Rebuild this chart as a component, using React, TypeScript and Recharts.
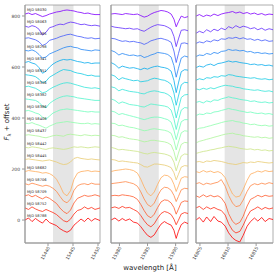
import React from 'react';
import { ComposedChart, Line, XAxis, YAxis, ReferenceArea, ReferenceDot } from 'recharts';

// epochs, top to bottom
const MJD = ['58030', '58063', '58085', '58298', '58341', '58351', '58356', '58382', '58386',
  '58408', '58437', '58442', '58445', '58682', '58706', '58709', '58752', '58788'];

// left window
const L_WAVE = [15435.4, 15436.1, 15436.8, 15437.5, 15438.2, 15438.9, 15439.6, 15440.3, 15441.0, 15441.7, 15442.4,
  15443.1, 15443.8, 15444.5, 15445.2, 15445.9, 15446.6, 15447.3, 15448.0, 15448.7, 15449.4, 15450.4];
const L_FLUX = [
  [0, 4, -2, 2, -4, -10, -6, 0, 4, 8, 10, 14, 16, 14, 12, 8, 6, 2, 4, 0, -2, -2],
  [0, -4, 2, -2, -12, -35, -24, -6, -2, 4, 8, 6, 12, 16, 14, 10, 6, 8, 4, 2, 4, 0],
  [0, 2, -2, -6, -14, -28, -22, -8, -4, 0, 6, 10, 14, 16, 12, 8, 6, 2, 0, 2, -2, 0],
  [0, -2, 2, -4, -16, -30, -26, -14, -8, -2, 4, 10, 14, 16, 12, 10, 4, 2, 0, -2, 2, 0],
  [0, 4, -2, -6, -20, -42, -34, -18, -6, 2, 8, 12, 10, 12, 8, 4, 2, -2, 0, -4, -2, -2],
  [0, -2, -4, -8, -18, -32, -26, -10, -2, 6, 14, 20, 18, 16, 10, 6, 4, 0, -4, -2, -6, -6],
  [0, 2, -2, -6, -14, -24, -20, -10, -2, 4, 10, 14, 16, 14, 10, 6, 2, -2, -4, -6, -4, -8],
  [0, -2, -4, -6, -14, -28, -35, -18, -8, 0, 6, 10, 12, 10, 8, 4, 2, 0, -2, -4, -6, -6],
  [0, 2, -2, -8, -12, -24, -32, -20, -8, -2, 4, 6, 8, 6, 4, 2, 0, -2, -4, -2, -4, -4],
  [0, -2, 2, -4, -8, -14, -20, -12, -6, 0, 2, 4, 6, 4, 2, 0, -2, -2, 0, -4, -2, -4],
  [0, 2, 0, -2, -4, -8, -10, -6, -2, 0, -2, -4, 2, 4, 2, 0, -2, 2, 0, -2, 0, -2],
  [0, -2, 2, 0, -2, -6, -8, -4, -2, -4, -6, -8, -6, -2, 2, 0, 2, 0, -2, 0, 2, 0],
  [0, 2, 0, -2, -4, -6, -4, -2, -6, -10, -16, -20, -18, -10, 4, 8, 4, 2, 0, 2, 0, -2],
  [0, 4, 2, 0, -2, -6, -4, -8, -16, -30, -55, -85, -95, -75, -30, -6, 0, 2, 4, 0, 2, 0],
  [0, -4, 2, -2, -6, -10, -6, -10, -18, -30, -50, -68, -75, -60, -26, -8, -2, 0, -4, 2, -2, -2],
  [0, 4, -4, 2, -6, -12, -4, -10, -20, -30, -48, -62, -70, -56, -28, -10, -4, 2, -2, 0, 4, -2],
  [0, -6, 4, -4, -10, -14, -6, -12, -18, -26, -38, -50, -55, -44, -24, -10, -6, 4, -4, 2, -6, 0],
  [0, 8, -6, 6, -4, -12, 4, -10, -16, -22, -34, -42, -48, -40, -20, -8, 4, -6, 8, -4, 6, -2],
];

// middle window
const M_WAVE = [15978.5, 15979.2, 15979.9, 15980.5, 15981.1, 15981.8, 15982.5, 15983.2, 15983.8, 15984.4, 15985.0,
  15985.6, 15986.2, 15986.8, 15987.4, 15988.0, 15988.6, 15989.2, 15989.7, 15990.1, 15990.5, 15991.0, 15991.6, 15992.2];
const M_FLUX = [
  [0, 2, 0, -2, 2, 0, -2, 0, -6, -12, -8, 0, 6, 10, 14, 12, 8, 0, -20, -50, -30, -8, -14, -10],
  [0, -4, -6, -8, -10, -8, -12, -10, -16, -20, -12, -4, 2, 6, 4, 2, -4, -12, -40, -80, -50, -16, -14, -18],
  [0, -2, -8, -12, -10, -14, -12, -16, -18, -24, -18, -10, -6, -2, 0, -4, -8, -16, -50, -95, -60, -20, -18, -22],
  [0, -6, -18, -12, -16, -20, -18, -22, -20, -28, -24, -18, -14, -8, -10, -12, -16, -26, -60, -105, -70, -30, -22, -26],
  [0, -8, -22, -14, -18, -22, -20, -24, -28, -22, -26, -20, -16, -14, -18, -20, -24, -34, -70, -118, -80, -36, -28, -30],
  [0, -6, -20, -12, -16, -20, -24, -22, -28, -26, -24, -18, -14, -16, -20, -22, -28, -38, -72, -120, -84, -40, -30, -32],
  [0, -4, -16, -10, -14, -18, -20, -22, -26, -28, -22, -18, -16, -18, -22, -24, -30, -40, -75, -122, -86, -42, -32, -30],
  [0, -6, -18, -12, -16, -22, -24, -26, -30, -32, -26, -20, -22, -24, -26, -28, -32, -44, -78, -120, -84, -44, -34, -36],
  [0, -4, -14, -10, -14, -18, -22, -26, -30, -34, -30, -26, -24, -24, -26, -30, -34, -44, -75, -112, -80, -42, -34, -34],
  [0, -2, -10, -8, -12, -16, -18, -22, -26, -30, -28, -24, -22, -24, -26, -28, -32, -40, -68, -105, -74, -38, -30, -32],
  [0, -2, -8, -6, -10, -14, -16, -18, -22, -26, -24, -20, -20, -22, -24, -26, -30, -38, -64, -100, -70, -36, -28, -30],
  [0, -4, -10, -8, -10, -12, -14, -16, -20, -24, -26, -22, -20, -22, -24, -26, -30, -36, -58, -92, -64, -34, -26, -28],
  [0, -2, -8, -6, -8, -10, -12, -14, -20, -28, -30, -24, -18, -18, -20, -22, -26, -32, -52, -80, -58, -30, -24, -26],
  [0, 4, 6, 8, 10, 8, 4, -6, -30, -60, -85, -95, -80, -50, -24, -14, -16, -26, -50, -78, -56, -26, -20, -22],
  [0, 2, 4, 6, 8, 4, 0, -10, -32, -60, -82, -90, -76, -48, -24, -14, -16, -26, -46, -70, -50, -24, -18, -20],
  [0, 2, 0, 4, 2, 0, -4, -14, -34, -58, -78, -86, -72, -46, -24, -16, -18, -28, -46, -72, -52, -26, -20, -22],
  [0, 4, -2, 6, 0, 2, -6, -14, -30, -50, -66, -74, -62, -40, -22, -14, -18, -26, -44, -66, -48, -24, -18, -22],
  [0, 8, -4, 6, -2, 4, -8, -12, -26, -44, -60, -68, -58, -36, -16, -6, -14, -20, -40, -72, -44, -18, -8, -14],
];

// right window
const R_WAVE = [16804.3, 16804.9, 16805.6, 16806.2, 16806.9, 16807.5, 16808.2, 16808.8, 16809.5, 16810.1, 16810.8,
  16811.4, 16812.1, 16812.7, 16813.4, 16814.0, 16814.7, 16815.3, 16816.0, 16816.6, 16817.3, 16818.0];
const R_FLUX = [
  [-8, -2, -10, -4, -8, 0, -6, 0, 4, 6, 10, 4, 8, 2, 6, 0, 4, -2, 2, -4, 0, -2],
  [-28, -20, -26, -14, -22, -12, -18, -8, -14, -2, -8, 2, -6, 0, -4, -10, -6, -14, -8, -16, -10, -14],
  [-20, -14, -18, -10, -14, -6, -10, -2, -4, 2, 0, 4, -2, 2, -4, -2, -8, -4, -10, -6, -12, -10],
  [-24, -18, -20, -12, -16, -8, -12, -4, -2, 4, 0, 2, -2, 0, -6, -4, -10, -8, -12, -10, -14, -12],
  [-20, -14, -18, -10, -6, -12, -4, -2, 2, 6, 2, 4, 0, -2, -4, -8, -6, -10, -8, -12, -10, -14],
  [-22, -16, -20, -12, -14, -8, -10, -4, -6, 0, -2, -6, -8, -10, -12, -14, -12, -16, -18, -16, -20, -18],
  [-8, -12, -6, -10, -4, -8, -2, 2, 6, 4, 2, -2, -4, -8, -10, -12, -14, -12, -16, -18, -16, -20],
  [-14, -10, -16, -8, -12, -4, -6, 0, 4, 8, 4, 2, -2, -4, -6, -10, -8, -12, -14, -12, -16, -14],
  [-18, -12, -14, -8, -10, -4, -2, 2, 6, 10, 6, 4, 0, -2, -6, -4, -8, -10, -8, -12, -10, -14],
  [-26, -20, -18, -14, -10, -6, -2, 2, 6, 8, 10, 6, 4, 0, -2, -6, -4, -8, -10, -8, -12, -10],
  [-30, -24, -20, -16, -12, -8, -4, 0, 4, 6, 8, 4, 2, -2, -4, -6, -8, -6, -10, -8, -12, -10],
  [-24, -20, -16, -14, -10, -8, -4, -2, 2, 4, 2, 0, -4, -6, -8, -6, -10, -8, -12, -10, -14, -12],
  [-10, -8, -12, -6, -8, -4, -6, -8, -12, -16, -18, -20, -16, -12, -14, -10, -12, -8, -10, -12, -14, -12],
  [0, -4, 4, -2, 2, -4, 0, -6, -24, -56, -88, -100, -96, -70, -34, -10, -4, 2, -2, 4, 0, 2],
  [0, 4, -4, 2, -2, 2, 6, 16, -10, -46, -76, -90, -86, -64, -30, -8, 0, -4, 2, -2, 4, 0],
  [0, -6, 4, -4, 2, -4, 0, -8, -30, -70, -100, -112, -104, -80, -40, -14, -6, 2, -4, 2, -2, 0],
  [0, 6, -6, 4, -4, 2, -6, -10, -28, -62, -88, -98, -92, -68, -34, -12, -4, 4, -6, 2, -4, 0],
  [0, 10, -8, 12, -6, 14, -4, -8, -24, -50, -70, -80, -86, -60, -24, -6, 8, -4, 10, -6, 6, 2],
];

const OFFSET_STEP = 47.5;
const Y_DOMAIN: [number, number] = [-90, 843];
const Y_TICKS = [0, 200, 400, 600, 800];

// matplotlib "rainbow" colormap
const rainbow = (t: number) => {
  const clip = (v: number) => Math.max(0, Math.min(1, v));
  const r = clip(Math.abs(2 * t - 0.5));
  const g = clip(Math.sin(Math.PI * t));
  const b = clip(Math.cos((Math.PI * t) / 2));
  return `rgb(${Math.round(r * 255)},${Math.round(g * 255)},${Math.round(b * 255)})`;
};

const FONT = 'DejaVu Sans';
const AXIS_GREY = '#999';

const XTick = (props: any) => {
  const { x, y, payload } = props;
  return (
    <text
      transform={`translate(${x + 1},${y - 1}) rotate(-60)`}
      textAnchor="end"
      dominantBaseline="central"
      fontSize={4.5}
      fontFamily={FONT}
      fill="#444"
    >
      {payload.value}
    </text>
  );
};

interface PanelProps {
  wave: number[];
  flux: number[][];
  domain: [number, number];
  ticks: number[];
  shade: [number, number];
  left: number;
  width: number;
  yAxisWidth: number;
  first?: boolean;
}

const Panel: React.FC<PanelProps> = ({ wave, flux, domain, ticks, shade, left, width, yAxisWidth, first }) => {
  const n = flux.length;
  return (
    <div style={{ position: 'absolute', left, top: 0 }}>
      <ComposedChart width={width} height={278} margin={{ top: 5, right: 2, bottom: 0, left: 0 }}>
        <XAxis
          type="number"
          dataKey="w"
          domain={domain}
          ticks={ticks}
          interval={0}
          allowDataOverflow
          height={35}
          tickSize={3}
          stroke={AXIS_GREY}
          tick={<XTick />}
        />
        <YAxis
          type="number"
          domain={Y_DOMAIN}
          ticks={Y_TICKS}
          interval={0}
          allowDataOverflow
          width={yAxisWidth}
          tickSize={3}
          stroke={AXIS_GREY}
          tick={first ? { fontSize: 4.5, fill: '#444', fontFamily: FONT } : false}
        />
        <ReferenceArea x1={shade[0]} x2={shade[1]} y1={Y_DOMAIN[0]} y2={Y_DOMAIN[1]} fill="#e5e5e5" fillOpacity={1} stroke="none" />
        {flux.map((row, i) => {
          const offset = (n - 1 - i) * OFFSET_STEP;
          const data = wave.map((w, j) => ({ w, f: row[j] + offset }));
          return (
            <Line
              key={MJD[i]}
              data={data}
              dataKey="f"
              type="linear"
              stroke={rainbow(i / (n - 1))}
              strokeWidth={0.8}
              dot={false}
              activeDot={false}
              isAnimationActive={false}
            />
          );
        })}
        {first &&
          MJD.map((m, i) => (
            <ReferenceDot
              key={'lbl' + m}
              x={domain[0] + 0.4}
              y={(n - 1 - i) * OFFSET_STEP + 16}
              r={0.01}
              fill="none"
              stroke="none"
              label={{ value: `MJD ${m}`, position: 'right', offset: 0, fontSize: 3.6, fill: '#222', fontFamily: FONT }}
            />
          ))}
        <ReferenceArea x1={domain[0]} x2={domain[1]} y1={Y_DOMAIN[0]} y2={Y_DOMAIN[1]} fill="none" stroke={AXIS_GREY} strokeWidth={0.8} />
      </ComposedChart>
    </div>
  );
};

export default function App() {
  return (
    <div style={{ position: 'absolute', left: 0, top: 0, width: 278, height: 278, background: '#fff', fontFamily: FONT }}>
      <Panel wave={L_WAVE} flux={L_FLUX} domain={[15435.4, 15450.4]} ticks={[15440, 15445, 15450]}
        shade={[15441.0, 15445.1]} left={0} width={102} yAxisWidth={25} first />
      <Panel wave={M_WAVE} flux={M_FLUX} domain={[15978.5, 15992.2]} ticks={[15980, 15985, 15990]}
        shade={[15983.5, 15987.0]} left={104} width={86} yAxisWidth={7} />
      <Panel wave={R_WAVE} flux={R_FLUX} domain={[16804.3, 16818.0]} ticks={[16805, 16810, 16815]}
        shade={[16809.4, 16813.0]} left={189} width={86} yAxisWidth={7} />
      <svg width={278} height={278} style={{ position: 'absolute', left: 0, top: 0, pointerEvents: 'none' }}>
        <text transform="translate(9,122) rotate(-90)" textAnchor="middle" fontSize={7} fontFamily={FONT} fill="#222">
          <tspan fontStyle="italic">F</tspan>
          <tspan fontSize={5} dy={1.5}>λ</tspan>
          <tspan dy={-1.5}> + offset</tspan>
        </text>
        <text x={150} y={270} textAnchor="middle" fontSize={7} fontFamily={FONT} fill="#222">
          wavelength [Å]
        </text>
      </svg>
    </div>
  );
}
